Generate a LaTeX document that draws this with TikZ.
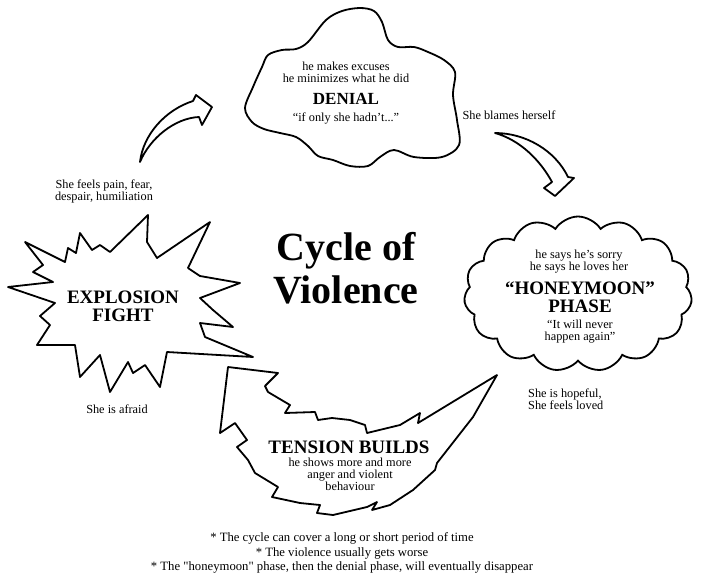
\documentclass[tikz,border=0pt]{standalone}
\usepackage{fontspec}
\setmainfont{Liberation Serif}
\newfontfamily\notefont[Ligatures=TeXOff]{Liberation Serif}
\usetikzlibrary{shapes.symbols}
\begin{document}
\begin{tikzpicture}[x=1pt,y=-1pt,
  outline/.style={draw=black, line width=1.8pt, line join=round, fill=white},
  lbl/.style={font=\fontsize{12.3}{12}\selectfont, align=center, inner sep=0pt},
  heading/.style={font=\fontsize{19}{18}\selectfont\bfseries, align=center, inner sep=0pt},
  note/.style={font=\notefont\fontsize{12.7}{14.5}\selectfont, align=center, inner sep=0pt},
  titlestyle/.style={font=\fontsize{40}{43}\selectfont\bfseries, align=center, inner sep=0pt}
]
\useasboundingbox (0,0) rectangle (703,581);
\fill[white] (0,0) rectangle (703,581);

% ---------- DENIAL blob ----------
\draw[outline] plot[smooth cycle, tension=0.55] coordinates {
  (245,108) (253,87) (262,67) (268,55) (282,50) (296,49) (308,42)
  (326,20) (342,11) (360,8) (374,11) (382,22) (388,40) (398,47)
  (414,47) (428,52) (444,60) (455,72) (453,95) (457,120) (459,145)
  (442,157) (414,157) (394,150) (380,157) (368,166) (350,166)
  (333,160) (318,156) (308,146) (296,137) (280,133) (264,129) (252,122)};
\node[lbl] (denialtxt) at (346,72) {he makes excuses\\he minimizes what he did};
\node[heading, font=\fontsize{17}{17}\selectfont\bfseries] (denial) at (346,99) {DENIAL};
\node[lbl] (denialq) at (346,118) {“if only she hadn’t...”};
\node[lbl] (blames) at (509,115) {She blames herself};

% ---------- HONEYMOON cloud ----------
\node[cloud, cloud puffs=15, cloud puff arc=115, draw=black, line width=1.8pt,
      fill=white, minimum width=228pt, minimum height=155pt, inner sep=0pt]
      (honey) at (578,294) {};
\node[lbl] (honeytxt) at (579,262) {he says he’s sorry\\he says he loves her};
\node[heading] (honeyh) at (580,297) {“HONEYMOON”\\PHASE};
\node[lbl] (honeyq) at (580,332) {“It will never\\happen again”};
\node[lbl, align=left, anchor=west] (hopeful) at (528,399) {She is hopeful,\\She feels loved};

% ---------- EXPLOSION star ----------
\draw[outline] (25,242) -- (65,262) -- (68,248) -- (76,253) -- (80,233)
  -- (92,250) -- (100,245) -- (110,252) -- (148,215) -- (147,242)
  -- (157,258) -- (210,222) -- (188,268) -- (200,276) -- (240,283)
  -- (200,298) -- (213,310) -- (233,327) -- (200,323) -- (205,337)
  -- (253,357) -- (167,352) -- (160,387) -- (145,365) -- (133,373)
  -- (128,362) -- (110,392) -- (100,355) -- (80,377) -- (75,345)
  -- (37,345) -- (50,325) -- (40,316) -- (55,303) -- (8,287)
  -- (53,282) -- (33,272) -- (43,265) -- cycle;
\node[heading] (explosion) at (123,306) {EXPLOSION\\FIGHT};
\node[lbl] (pain) at (104,191) {She feels pain, fear,\\despair, humiliation};
\node[lbl] (afraid) at (117,409) {She is afraid};

% ---------- TENSION arrow ----------
\draw[outline] (228,367) -- (278,373) -- (265,386) -- (268,392) -- (290,405)
  -- (285,413) -- (315,412) -- (318,420) -- (332,418) -- (350,420)
  -- (365,425) -- (367,433) -- (400,425) -- (420,413) -- (418,423)
  -- (497,375) -- (473,417) -- (437,463) -- (435,470) -- (413,490)
  -- (390,505) -- (372,510) -- (377,502) -- (367,507) -- (333,515)
  -- (317,513) -- (320,505) -- (300,503) -- (272,497) -- (278,487)
  -- (255,473) -- (248,460) -- (237,447) -- (247,440) -- (235,423)
  -- (220,433) -- cycle;
\node[heading] (tension) at (349,447) {TENSION BUILDS};
\node[lbl] (tensiontxt) at (350,474) {he shows more and more\\anger and violent\\behaviour};

% ---------- curved arrows ----------
\draw[outline] (140,162) .. controls (143,135) and (165,110) .. (193,101)
  -- (196,95) -- (212,107) -- (202,125) -- (199,117)
  .. controls (175,118) and (150,138) .. cycle;
\draw[outline] (495,133) .. controls (525,133) and (555,150) .. (568,177)
  -- (574,178) -- (555,196) -- (544,188) -- (552,182)
  .. controls (540,160) and (520,140) .. cycle;

% ---------- title ----------
\node[titlestyle] (title) at (346,268) {Cycle of\\Violence};

% ---------- notes ----------
\node[note] (notes) at (342,553) {* The cycle can cover a long or short period of time\\
  * The violence usually gets worse\\
  * The "honeymoon" phase, then the denial phase, will eventually disappear};
\end{tikzpicture}
\end{document}
